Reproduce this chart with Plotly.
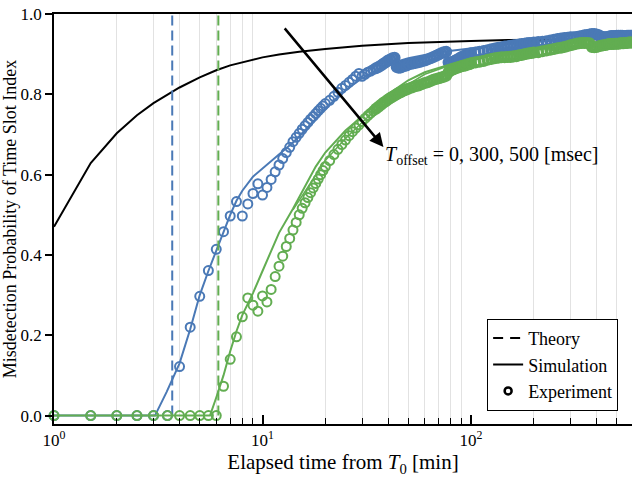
import numpy as np
import plotly.graph_objects as go

# ---------------- data ----------------
# experiment time grid [min]
t_seg_a = np.arange(1, 20.01, 0.5)
t_seg_b = np.arange(21, 50.01, 1)
t_seg_c = np.arange(52, 100.01, 2)
t_seg_d = np.arange(105, 200.01, 5)
t_seg_e = np.arange(210, 600.01, 10)
t_exp = np.concatenate([t_seg_a, t_seg_b, t_seg_c, t_seg_d, t_seg_e])

blue_exp_a = [0, 0, 0, 0, 0, 0,
              0.122, 0.22, 0.297, 0.361, 0.414, 0.458, 0.497, 0.533, 0.497, 0.527,
              0.553, 0.577, 0.549, 0.568, 0.588, 0.607, 0.624, 0.64, 0.655, 0.668,
              0.682, 0.693, 0.703, 0.713, 0.722, 0.73, 0.738, 0.745, 0.752, 0.759,
              0.765, 0.771, 0.777]
blue_exp_b = [0.785, 0.795, 0.805, 0.815, 0.822, 0.83, 0.837, 0.845, 0.852, 0.845,
              0.85, 0.855, 0.858, 0.862, 0.865, 0.868, 0.872, 0.876, 0.88, 0.884,
              0.887, 0.89, 0.891, 0.868, 0.866, 0.867, 0.869, 0.871, 0.872, 0.874]
blue_exp_c = [0.876, 0.878, 0.88, 0.882, 0.884, 0.887, 0.89, 0.893, 0.896, 0.899,
              0.902, 0.905, 0.906, 0.88, 0.879, 0.881, 0.884, 0.887, 0.89, 0.893,
              0.895, 0.897, 0.899, 0.9, 0.902]
blue_exp_d = [0.904, 0.906, 0.908, 0.91, 0.912, 0.914, 0.916, 0.917, 0.919, 0.92,
              0.921, 0.922, 0.923, 0.924, 0.925, 0.926, 0.927, 0.928, 0.928, 0.929]
blue_exp_e = [0.93, 0.931, 0.932, 0.934, 0.936, 0.938, 0.939, 0.94, 0.941, 0.942,
              0.942, 0.943, 0.944, 0.945, 0.947, 0.948, 0.949, 0.95, 0.95, 0.949,
              0.947, 0.944, 0.943, 0.942, 0.943, 0.944, 0.945, 0.945, 0.945, 0.946,
              0.946, 0.946, 0.946, 0.945, 0.945, 0.946, 0.946, 0.946, 0.946, 0.946]

green_exp_a = [0, 0, 0, 0, 0, 0, 0, 0, 0, 0, 0,
               0.073, 0.14, 0.196, 0.246, 0.293, 0.275, 0.26, 0.298, 0.283, 0.314,
               0.346, 0.372, 0.397, 0.421, 0.441, 0.462, 0.481, 0.5, 0.516, 0.53,
               0.543, 0.555, 0.567, 0.578, 0.589, 0.6, 0.61, 0.62]
green_exp_b = [0.635, 0.65, 0.663, 0.675, 0.686, 0.697, 0.707, 0.716, 0.724, 0.732,
               0.74, 0.747, 0.753, 0.759, 0.764, 0.769, 0.774, 0.779, 0.783, 0.787,
               0.791, 0.794, 0.797, 0.8, 0.803, 0.805, 0.808, 0.81, 0.812, 0.814]
green_exp_c = [0.817, 0.82, 0.822, 0.825, 0.828, 0.83, 0.833, 0.836, 0.838, 0.84,
               0.842, 0.844, 0.846, 0.855, 0.86, 0.862, 0.864, 0.866, 0.868, 0.87,
               0.871, 0.872, 0.874, 0.875, 0.877]
green_exp_d = [0.879, 0.881, 0.883, 0.886, 0.888, 0.89, 0.891, 0.892, 0.892, 0.893,
               0.893, 0.894, 0.895, 0.897, 0.898, 0.9, 0.901, 0.902, 0.903, 0.904]
green_exp_e = [0.905, 0.907, 0.909, 0.911, 0.913, 0.915, 0.916, 0.918, 0.92, 0.922,
               0.924, 0.926, 0.927, 0.928, 0.928, 0.928, 0.927, 0.918, 0.917, 0.918,
               0.92, 0.921, 0.922, 0.923, 0.924, 0.925, 0.925, 0.925, 0.926, 0.926,
               0.926, 0.927, 0.927, 0.927, 0.928, 0.928, 0.929, 0.929, 0.929, 0.929]

blue_exp = np.array(blue_exp_a + blue_exp_b + blue_exp_c + blue_exp_d + blue_exp_e)
green_exp = np.array(green_exp_a + green_exp_b + green_exp_c + green_exp_d + green_exp_e)

# simulation curves
blue_sim_t = [1, 3.05, 3.47, 4.0, 4.5, 5.0, 5.5, 6.0, 6.5, 7.0, 7.5, 8, 9, 10, 11, 12,
              14, 16, 18, 20, 25, 30, 40, 50, 70, 100, 150, 200, 300, 400, 600]
blue_sim_p = [0, 0, 0.059, 0.13, 0.215, 0.3, 0.36, 0.41, 0.46, 0.5, 0.535, 0.56, 0.595,
              0.615, 0.635, 0.65, 0.68, 0.71, 0.74, 0.765, 0.81, 0.84, 0.875, 0.89,
              0.905, 0.915, 0.925, 0.93, 0.935, 0.94, 0.942]
green_sim_t = [1, 5.6, 6.0, 6.5, 7.0, 7.5, 8, 9, 10, 11, 12, 14, 16, 18, 20, 25, 30,
               40, 50, 60, 80, 100, 150, 200, 300, 400, 600]
green_sim_p = [0, 0, 0.045, 0.1, 0.16, 0.21, 0.25, 0.305, 0.36, 0.412, 0.455, 0.515, 0.57,
               0.62, 0.655, 0.71, 0.745, 0.8, 0.835, 0.855, 0.875, 0.89, 0.905, 0.912,
               0.92, 0.925, 0.93]
green_sim2_t = [14, 16, 18, 20, 25, 30, 40, 50, 60, 80]
green_sim2_p = [0.512, 0.558, 0.6, 0.635, 0.69, 0.73, 0.79, 0.825, 0.85, 0.873]
black_sim_t = [1, 1.5, 2, 2.5, 3, 3.5, 4, 5, 6, 7, 8, 10, 12, 15, 20, 30, 50, 70, 100,
               150, 200, 300, 600]
black_sim_p = [0.47, 0.629, 0.703, 0.748, 0.778, 0.8, 0.817, 0.842, 0.86, 0.872, 0.88,
               0.892, 0.899, 0.906, 0.913, 0.921, 0.928, 0.931, 0.933, 0.935, 0.936,
               0.937, 0.938]

# theory thresholds [min]
blue_theory_t = 3.69
green_theory_t = 6.14

# annotation arrow (data units): tail -> head
arrow_tail = (12.6, 0.968)
arrow_head = (38.0, 0.669)
label_pos = (37.9, 0.648)

x_tickvals = [1, 10, 100]
x_ticktext = ["10<sup>0</sup>", "10<sup>1</sup>", "10<sup>2</sup>"]
x_minor = [2, 3, 4, 5, 6, 7, 8, 9, 20, 30, 40, 50, 60, 70, 80, 90, 200, 300, 400, 500]
y_tickvals = [0.0, 0.2, 0.4, 0.6, 0.8, 1.0]

BLUE = "#4a79b6"
GREEN = "#62ad51"
FONT = "Liberation Serif, Times New Roman, serif"
DENSE_FROM = 35  # [min] where the marker band becomes solid

# ---------------- figure ----------------
fig = go.Figure()
sparse = t_exp < DENSE_FROM
dense = ~sparse


def add_markers(yvals, color):
    fig.add_trace(go.Scatter(x=t_exp[sparse], y=yvals[sparse], mode="markers",
                             cliponaxis=False,
                             marker=dict(symbol="circle-open", size=9, color=color,
                                         line=dict(width=2, color=color)),
                             showlegend=False))
    fig.add_trace(go.Scatter(x=t_exp[dense], y=yvals[dense], mode="markers",
                             cliponaxis=False,
                             marker=dict(symbol="circle-open", size=9, color=color,
                                         line=dict(width=3, color=color)),
                             showlegend=False))


fig.add_trace(go.Scatter(x=black_sim_t, y=black_sim_p, mode="lines",
                         line=dict(color="black", width=2), showlegend=False))
fig.add_trace(go.Scatter(x=blue_sim_t, y=blue_sim_p, mode="lines",
                         line=dict(color=BLUE, width=2), showlegend=False))
fig.add_trace(go.Scatter(x=[blue_theory_t, blue_theory_t], y=[0, 1], mode="lines",
                         line=dict(color=BLUE, width=2, dash="10px,5px"), showlegend=False))
add_markers(blue_exp, BLUE)
fig.add_trace(go.Scatter(x=green_sim_t, y=green_sim_p, mode="lines",
                         line=dict(color=GREEN, width=2), showlegend=False))
fig.add_trace(go.Scatter(x=green_sim2_t, y=green_sim2_p, mode="lines",
                         line=dict(color=GREEN, width=1.5), showlegend=False))
fig.add_trace(go.Scatter(x=[green_theory_t, green_theory_t], y=[0, 1], mode="lines",
                         line=dict(color=GREEN, width=2, dash="10px,5px"), showlegend=False))
add_markers(green_exp, GREEN)

# legend-only entries
fig.add_trace(go.Scatter(x=[None], y=[None], mode="lines", name="Theory",
                         line=dict(color="black", width=2, dash="10px,7px")))
fig.add_trace(go.Scatter(x=[None], y=[None], mode="lines", name="Simulation",
                         line=dict(color="black", width=2)))
fig.add_trace(go.Scatter(x=[None], y=[None], mode="markers", name="Experiment",
                         marker=dict(symbol="circle-open", size=7, color="black",
                                     line=dict(width=2.5, color="black"))))

fig.add_annotation(x=np.log10(arrow_head[0]), y=arrow_head[1],
                   ax=np.log10(arrow_tail[0]), ay=arrow_tail[1],
                   xref="x", yref="y", axref="x", ayref="y", text="",
                   showarrow=True, arrowhead=2, arrowsize=1.1, arrowwidth=2.5,
                   arrowcolor="black", standoff=0)
fig.add_annotation(x=np.log10(label_pos[0]), y=label_pos[1], xref="x", yref="y",
                   text="<i>T</i><sub>offset</sub> = 0, 300, 500 [msec]",
                   showarrow=False, xanchor="left", yanchor="middle",
                   font=dict(family=FONT, size=20, color="black"))

fig.update_layout(
    width=632, height=481,
    margin=dict(l=54, r=0, t=14, b=57),
    paper_bgcolor="white", plot_bgcolor="white",
    font=dict(family=FONT, size=17, color="black"),
    legend=dict(x=0.976, xanchor="right", y=0.032, yanchor="bottom",
                bgcolor="white", bordercolor="black", borderwidth=1,
                font=dict(family=FONT, size=18, color="black"),
                itemwidth=30, tracegroupgap=0),
    xaxis=dict(type="log", range=[0, 2.772], showgrid=False,
               showline=True, linecolor="black", linewidth=1.5, mirror=True,
               tickmode="array", tickvals=x_tickvals, ticktext=x_ticktext,
               ticks="inside", ticklen=9, tickwidth=1.5, tickcolor="black",
               tickfont=dict(family=FONT, size=17),
               minor=dict(tickmode="array", tickvals=x_minor, ticks="inside",
                          ticklen=6, tickwidth=1, tickcolor="black",
                          showgrid=True, gridcolor="#e2e2e2", gridwidth=1),
               title=dict(text="Elapsed time from <i>T</i><sub>0</sub> [min]",
                          font=dict(family=FONT, size=21), standoff=4),
               zeroline=False),
    yaxis=dict(range=[-0.021, 1.0], showgrid=False, zeroline=False,
               showline=True, linecolor="black", linewidth=1.5,
               tickmode="array", tickvals=y_tickvals, tickformat=".1f",
               ticks="outside", ticklen=7, tickwidth=1.5, tickcolor="black",
               tickfont=dict(family=FONT, size=17),
               title=dict(text="Misdetection Probability of Time Slot Index",
                          font=dict(family=FONT, size=18), standoff=0)),
)

fig.write_html("out.html")
